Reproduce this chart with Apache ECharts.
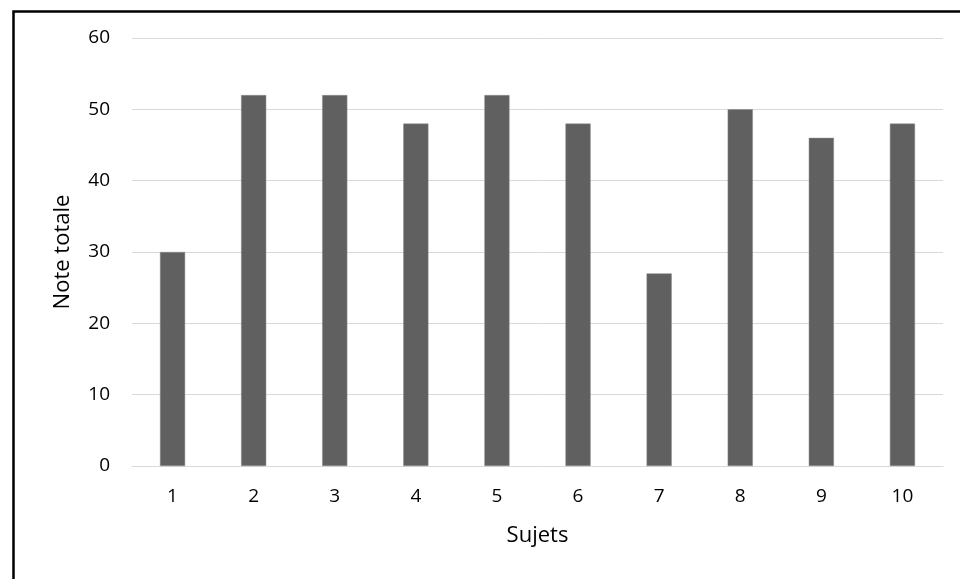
<!DOCTYPE html>
<html>
<head>
<meta charset="utf-8">
<script src="https://cdn.jsdelivr.net/npm/echarts@6/dist/echarts.min.js"></script>
<style>html,body{margin:0;padding:0;background:#fff;}#c{width:960px;height:579px;}</style>
</head>
<body>
<div id="c"></div>
<script>
const categories = ['1','2','3','4','5','6','7','8','9','10'];
const values = [30, 52, 52, 48, 52, 48, 27, 50, 46, 48];
const yTicks = {min: 0, max: 60, interval: 10};

const chart = echarts.init(document.getElementById('c'), null, {renderer: 'canvas'});
const font = 'Open Sans, Noto Sans, sans-serif';
chart.setOption({
  animation: false,
  backgroundColor: '#fff',
  graphic: [{
    type: 'rect', left: 11, top: 9, z: 100,
    shape: {x: 0, y: 0, width: 980, height: 600},
    style: {fill: 'none', stroke: '#000', lineWidth: 2.5}
  }],
  grid: {left: 132, right: 17, top: 38, bottom: 113},
  xAxis: {
    type: 'category', data: categories,
    name: 'Sujets', nameLocation: 'middle', nameGap: 59,
    nameTextStyle: {fontFamily: font, fontSize: 22, color: '#000'},
    axisLine: {lineStyle: {color: '#d9d9d9', width: 1}},
    axisTick: {show: false},
    axisLabel: {fontFamily: font, fontSize: 19, color: '#000', margin: 21}
  },
  yAxis: {
    type: 'value', min: yTicks.min, max: yTicks.max, interval: yTicks.interval,
    name: 'Note totale', nameLocation: 'middle', nameGap: 58,
    nameTextStyle: {fontFamily: font, fontSize: 22, color: '#000'},
    axisLine: {show: false}, axisTick: {show: false},
    axisLabel: {fontFamily: font, fontSize: 19, color: '#000', margin: 22},
    splitLine: {lineStyle: {color: '#d9d9d9', width: 1}}
  },
  series: [{
    type: 'bar', data: values, barWidth: '31%',
    itemStyle: {color: '#606060', borderColor: '#8a8a8a', borderWidth: 0.5}
  }]
});
</script>
</body>
</html>
